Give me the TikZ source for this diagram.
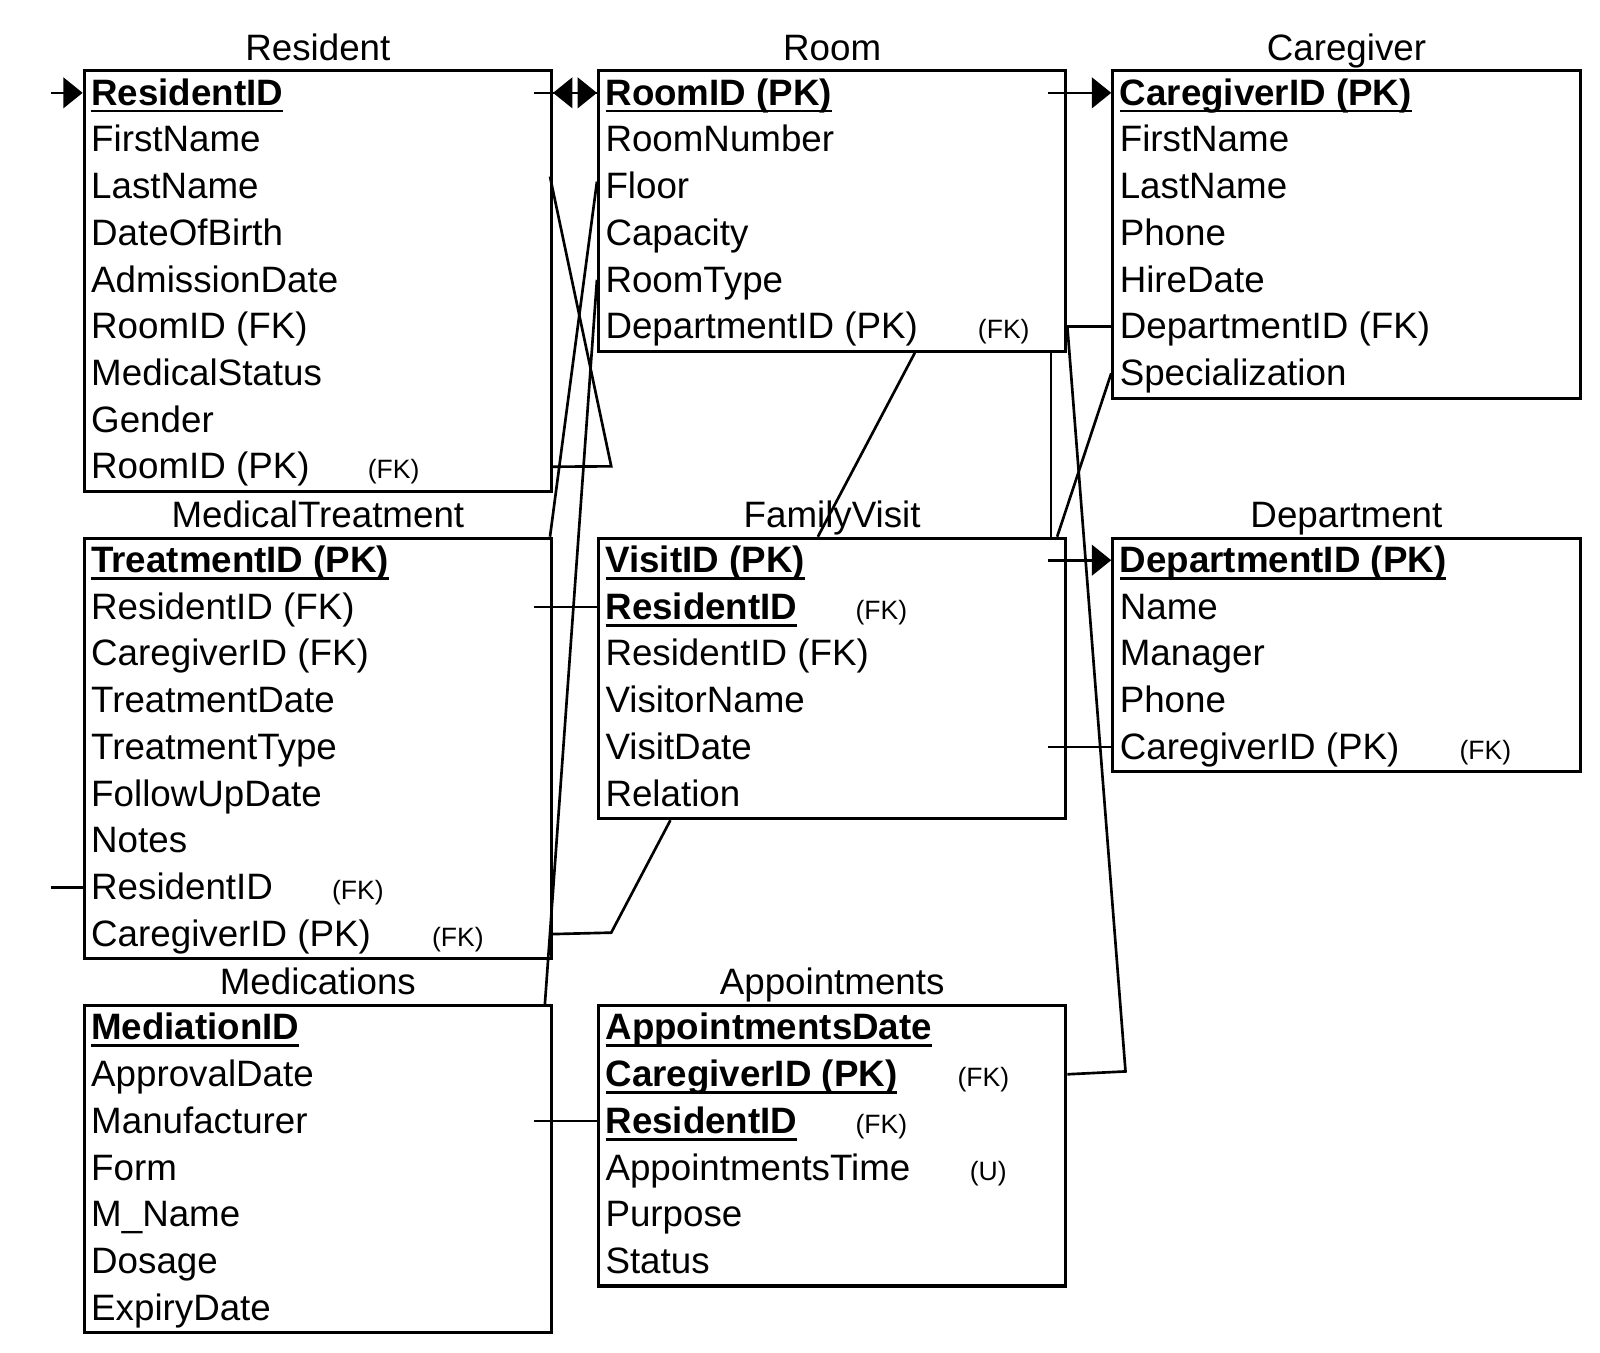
\documentclass[tikz,border=0pt]{standalone}
\usepackage{fontspec}
\setmainfont{Liberation Sans}
\usetikzlibrary{arrows.meta,positioning}
\newsavebox{\keybox}
\newcommand{\pkey}[1]{\sbox{\keybox}{\bfseries #1}\rlap{\rule[-3.6pt]{\wd\keybox}{1.4pt}}\usebox{\keybox}}
\newcommand{\tablefont}{\fontsize{18}{22}\selectfont}
\newcommand{\tagfont}{\fontsize{13}{16}\selectfont}
\begin{document}
\begin{tikzpicture}[x=0.5pt, y=-0.5pt, >={Triangle[length=9.5pt,width=15pt]},
    every node/.style={font=\tablefont},
    tbl/.style={draw, line width=1.5pt, anchor=north west, minimum width=229pt, inner sep=0pt},
    ttl/.style={anchor=base},
    fld/.style={anchor=base west, inner sep=0pt},
    tag/.style={anchor=base west, inner sep=0pt, font=\tagfont},
    link/.style={line width=1.3pt}]
    \useasboundingbox (0,0) rectangle (1568,1325);

    \node[tbl, minimum height=206.1pt] (resident) at (81,68) {};
    \node[ttl] (resident-title) at ([yshift=4.5pt]resident.north) {Resident};
    \foreach \f [count=\k from 0] in {{\pkey{ResidentID}}, FirstName, LastName, DateOfBirth, AdmissionDate, RoomID (FK), MedicalStatus, Gender, RoomID (PK)} {
        \node[fld] (resident-f\k) at (89,{103+45.8*\k}) {\f};
        \coordinate (resident-r\k) at (81,{91+45.8*\k});
    }
    \node[tag] (resident-fk) at (360,469.4) {(FK)};

    \node[tbl, minimum height=137.4pt] (room) at (585,68) {};
    \node[ttl] (room-title) at ([yshift=4.5pt]room.north) {Room};
    \foreach \f [count=\k from 0] in {{\pkey{RoomID (PK)}}, RoomNumber, Floor, Capacity, RoomType, DepartmentID (PK)} {
        \node[fld] (room-f\k) at (593,{103+45.8*\k}) {\f};
        \coordinate (room-r\k) at (585,{91+45.8*\k});
    }
    \node[tag] (room-fk) at (958,332) {(FK)};

    \node[tbl, minimum height=160.3pt] (caregiver) at (1089,68) {};
    \node[ttl] (caregiver-title) at ([yshift=4.5pt]caregiver.north) {Caregiver};
    \foreach \f [count=\k from 0] in {{\pkey{CaregiverID (PK)}}, FirstName, LastName, Phone, HireDate, DepartmentID (FK), Specialization} {
        \node[fld] (caregiver-f\k) at (1097,{103+45.8*\k}) {\f};
        \coordinate (caregiver-r\k) at (1089,{91+45.8*\k});
    }

    \node[tbl, minimum height=206.1pt] (treatment) at (81,526) {};
    \node[ttl] (treatment-title) at ([yshift=4.5pt]treatment.north) {MedicalTreatment};
    \foreach \f [count=\k from 0] in {{\pkey{TreatmentID (PK)}}, ResidentID (FK), CaregiverID (FK), TreatmentDate, TreatmentType, FollowUpDate, Notes, ResidentID, CaregiverID (PK)} {
        \node[fld] (treatment-f\k) at (89,{561+45.8*\k}) {\f};
        \coordinate (treatment-r\k) at (81,{549+45.8*\k});
    }
    \node[tag] (treatment-fk1) at (325,881.6) {(FK)};
    \node[tag] (treatment-fk2) at (423,927.4) {(FK)};

    \node[tbl, minimum height=137.4pt] (visit) at (585,526) {};
    \node[ttl] (visit-title) at ([yshift=4.5pt]visit.north) {FamilyVisit};
    \foreach \f [count=\k from 0] in {{\pkey{VisitID (PK)}}, {\pkey{ResidentID}}, ResidentID (FK), VisitorName, VisitDate, Relation} {
        \node[fld] (visit-f\k) at (593,{561+45.8*\k}) {\f};
        \coordinate (visit-r\k) at (585,{549+45.8*\k});
    }
    \node[tag] (visit-fk) at (838,606.8) {(FK)};

    \node[tbl, minimum height=114.5pt] (department) at (1089,526) {};
    \node[ttl] (department-title) at ([yshift=4.5pt]department.north) {Department};
    \foreach \f [count=\k from 0] in {{\pkey{DepartmentID (PK)}}, Name, Manager, Phone, CaregiverID (PK)} {
        \node[fld] (department-f\k) at (1097,{561+45.8*\k}) {\f};
        \coordinate (department-r\k) at (1089,{549+45.8*\k});
    }
    \node[tag] (department-fk) at (1430,744.2) {(FK)};

    \node[tbl, minimum height=160.3pt] (medication) at (81,984) {};
    \node[ttl] (medication-title) at ([yshift=4.5pt]medication.north) {Medications};
    \foreach \f [count=\k from 0] in {{\pkey{MediationID}}, ApprovalDate, Manufacturer, Form, M\_Name, Dosage, ExpiryDate} {
        \node[fld] (medication-f\k) at (89,{1019+45.8*\k}) {\f};
        \coordinate (medication-r\k) at (81,{1007+45.8*\k});
    }

    \node[tbl, minimum height=137.4pt] (appointment) at (585,984) {};
    \node[ttl] (appointment-title) at ([yshift=4.5pt]appointment.north) {Appointments};
    \foreach \f [count=\k from 0] in {{\pkey{AppointmentsDate}}, {\pkey{CaregiverID (PK)}}, {\pkey{ResidentID}}, AppointmentsTime, Purpose, Status} {
        \node[fld] (appointment-f\k) at (593,{1019+45.8*\k}) {\f};
        \coordinate (appointment-r\k) at (585,{1007+45.8*\k});
    }
    \node[tag] (appointment-fk1) at (938,1064.8) {(FK)};
    \node[tag] (appointment-fk2) at (838,1110.6) {(FK)};
    \node[tag] (appointment-u) at (950,1156.4) {(U)};

    \coordinate (resident-in) at (50,91);
    \coordinate (resident-port) at (523,91);
    \coordinate (room-port) at (1027,91);
    \coordinate (resident-out) at (539,173);
    \coordinate (room-out) at (585,178);
    \coordinate (resident-bend) at (599,457);
    \coordinate (treatment-bend) at (599,914);
    \coordinate (appointment-bend) at (1103,1050);

    \draw[link,->] (resident-in) -- (resident-r0);
    \draw[link,->] (resident-port) -- (room-r0);
    \draw[link,->] (room-r0) -- (resident.east |- resident-r0);
    \draw[link,->] (room-port) -- (caregiver-r0);
    \draw[link] (room.east |- room-r5) -- (caregiver-r5);
    \draw[link] (room.east |- room-r5) -- (appointment-bend) -- (appointment.east |- appointment-r1);
    \draw[link] (resident-out) -- (resident-bend) -- (resident.east |- resident-r8);
    \draw[link] (room-out) -- ([xshift=-1.5pt]treatment.north east);
    \draw[link] (room-r4) -- ([xshift=-4pt]medication.north east);
    \draw[link] ([xshift=40.5pt]room.south) -- ([xshift=-7pt]visit.north);
    \draw[link] ([xshift=-8pt]room.south east) -- ([xshift=-8pt]visit.north east);
    \draw[link] (caregiver-r6) -- ([xshift=-5pt]visit.north east);
    \draw[link] (resident-port |- treatment-r1) -- (visit-r1);
    \draw[link] (resident-in |- treatment-r7) -- (treatment-r7);
    \draw[link] (treatment.east |- treatment-r8) -- (treatment-bend) -- ([xshift=36pt]visit.south west);
    \draw[link,->] (room-port |- visit-r0) -- (department-r0);
    \draw[link] (room-port |- visit-r4) -- (department-r4);
    \draw[link] (resident-port |- medication-r2) -- (appointment-r2);
\end{tikzpicture}
\end{document}
